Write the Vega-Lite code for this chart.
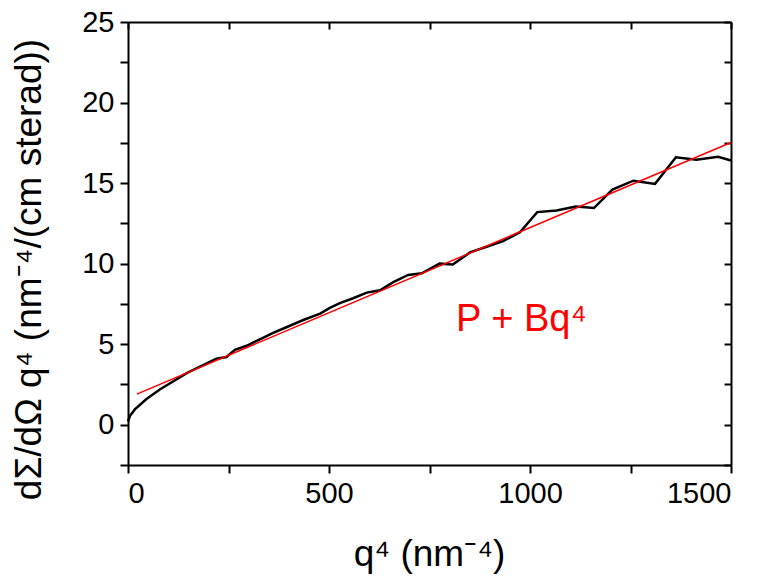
{
  "$schema": "https://vega.github.io/schema/vega-lite/v6.json",
  "width": 603,
  "height": 443,
  "autosize": {"type": "none"},
  "padding": {"left": 128, "top": 22, "right": 37, "bottom": 116},
  "background": "white",
  "config": {
    "view": {"stroke": null},
    "font": "Liberation Sans",
    "axis": {
      "grid": false,
      "domainColor": "black",
      "domainWidth": 2,
      "tickColor": "black",
      "tickWidth": 2,
      "labelColor": "black",
      "titleColor": "black",
      "labelFont": "Liberation Sans",
      "titleFont": "Liberation Sans",
      "labelFontSize": 29,
      "titleFontSize": 37,
      "titleFontWeight": "normal"
    }
  },
  "datasets": {
    "measured": [
      {"q4": 0, "value": 0.2},
      {"q4": 5, "value": 0.55},
      {"q4": 17, "value": 0.95},
      {"q4": 46, "value": 1.6},
      {"q4": 80, "value": 2.2},
      {"q4": 113, "value": 2.7},
      {"q4": 146, "value": 3.2},
      {"q4": 187, "value": 3.7},
      {"q4": 220, "value": 4.1},
      {"q4": 245, "value": 4.2},
      {"q4": 266, "value": 4.65},
      {"q4": 295, "value": 4.9},
      {"q4": 328, "value": 5.3},
      {"q4": 361, "value": 5.7},
      {"q4": 394, "value": 6.05},
      {"q4": 436, "value": 6.5},
      {"q4": 478, "value": 6.9},
      {"q4": 502, "value": 7.25},
      {"q4": 527, "value": 7.55},
      {"q4": 560, "value": 7.85},
      {"q4": 594, "value": 8.2},
      {"q4": 627, "value": 8.35},
      {"q4": 660, "value": 8.85},
      {"q4": 697, "value": 9.3},
      {"q4": 731, "value": 9.4},
      {"q4": 775, "value": 10.0},
      {"q4": 808, "value": 9.95},
      {"q4": 851, "value": 10.7},
      {"q4": 892, "value": 11.05},
      {"q4": 933, "value": 11.4},
      {"q4": 975, "value": 11.95},
      {"q4": 1018, "value": 13.2},
      {"q4": 1066, "value": 13.3},
      {"q4": 1114, "value": 13.55},
      {"q4": 1159, "value": 13.45},
      {"q4": 1205, "value": 14.6},
      {"q4": 1257, "value": 15.15},
      {"q4": 1311, "value": 14.95},
      {"q4": 1363, "value": 16.6},
      {"q4": 1414, "value": 16.45},
      {"q4": 1468, "value": 16.63},
      {"q4": 1500, "value": 16.4}
    ],
    "fit": [
      {"q4": 22, "value": 1.9},
      {"q4": 1500, "value": 17.52}
    ]
  },
  "layer": [
    {
      "data": {"name": "measured"},
      "mark": {"type": "line", "color": "black", "strokeWidth": 2.5},
      "encoding": {
        "x": {
          "field": "q4",
          "type": "quantitative",
          "scale": {"domain": [0, 1500], "nice": false, "zero": false},
          "axis": {
            "orient": "bottom",
            "values": [0, 250, 500, 750, 1000, 1250, 1500],
            "format": "d",
            "labelExpr": "datum.value % 500 === 0 ? datum.label : ''",
            "tickSize": 8,
            "labelPadding": 6,
            "title": "q⁴ (nm⁻⁴)",
            "titleX": 301,
            "titleY": 100,
            "titleAlign": "center",
            "titleBaseline": "alphabetic"
          }
        },
        "y": {
          "field": "value",
          "type": "quantitative",
          "scale": {"domain": [-2.5, 25], "nice": false, "zero": false},
          "axis": {
            "orient": "left",
            "values": [-2.5, 0, 2.5, 5, 7.5, 10, 12.5, 15, 17.5, 20, 22.5, 25],
            "labelExpr": "datum.value % 5 === 0 ? datum.label : ''",
            "tickSize": 8,
            "labelPadding": 6,
            "title": "dΣ/dΩ q⁴ (nm⁻⁴/(cm sterad))",
            "titleX": -99,
            "titleY": 247,
            "titleAlign": "center",
            "titleBaseline": "middle",
            "titleAngle": -90
          }
        }
      }
    },
    {
      "data": {"name": "fit"},
      "mark": {"type": "line", "color": "#ff0000", "strokeWidth": 1.5},
      "encoding": {
        "x": {"field": "q4", "type": "quantitative", "axis": null},
        "y": {"field": "value", "type": "quantitative", "axis": null}
      }
    },
    {
      "data": {"values": [{}]},
      "mark": {"type": "text", "text": "P + Bq⁴", "color": "#ff0000", "fontSize": 38, "font": "Liberation Sans", "align": "left", "baseline": "alphabetic"},
      "encoding": {
        "x": {"datum": 816, "type": "quantitative", "axis": null},
        "y": {"datum": 5.8, "type": "quantitative", "axis": null}
      }
    },
    {
      "data": {"name": "measured"},
      "mark": {"type": "line", "opacity": 0},
      "encoding": {
        "x": {
          "field": "q4",
          "type": "quantitative",
          "axis": {
            "orient": "top",
            "values": [0, 250, 500, 750, 1000, 1250, 1500],
            "labels": false,
            "tickSize": -7,
            "title": null
          }
        },
        "y": {
          "field": "value",
          "type": "quantitative",
          "axis": {
            "orient": "right",
            "values": [-2.5, 0, 2.5, 5, 7.5, 10, 12.5, 15, 17.5, 20, 22.5, 25],
            "labels": false,
            "tickSize": -7,
            "title": null
          }
        }
      }
    }
  ],
  "resolve": {"axis": {"x": "independent", "y": "independent"}}
}
